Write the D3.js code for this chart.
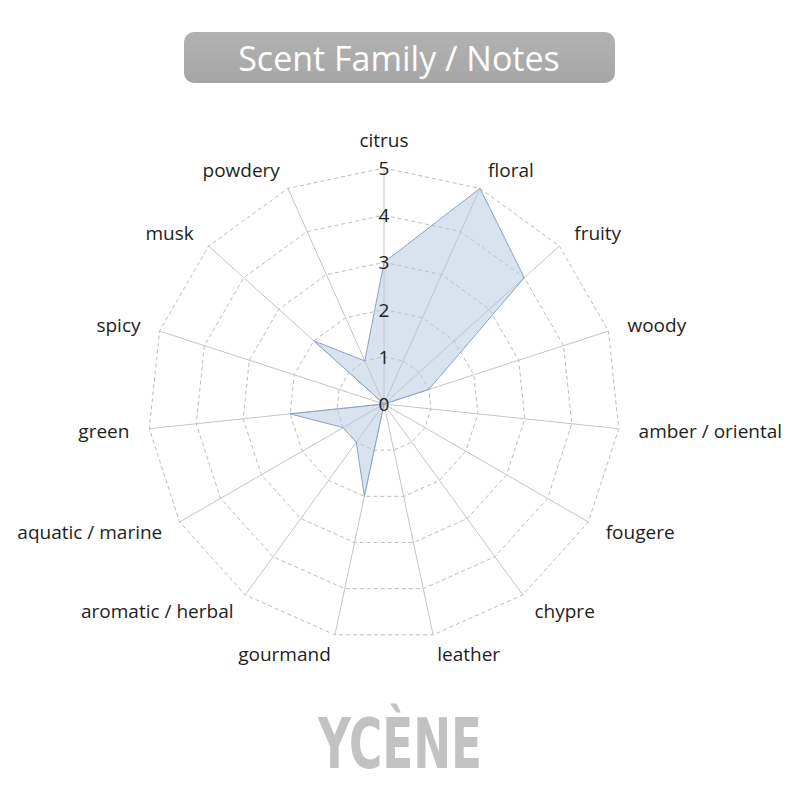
<!DOCTYPE html>
<html>
<head>
<meta charset="utf-8">
<script src="https://cdn.jsdelivr.net/npm/d3@7"></script>
<style>
  html, body { margin: 0; padding: 0; background: #fff; }
  svg { display: block; }
</style>
</head>
<body>
<svg id="chart" width="800" height="800"></svg>
<script>
const families = ['citrus', 'floral', 'fruity', 'woody', 'amber / oriental', 'fougere', 'chypre',
  'leather', 'gourmand', 'aromatic / herbal', 'aquatic / marine', 'green', 'spicy', 'musk', 'powdery']
const scores = [3, 5, 4, 1, 0, 0, 0, 0, 2, 1, 1, 2, 0, 2, 1]
const levels = [0, 1, 2, 3, 4, 5]

const svg = d3.select('#chart')
const width = 800, height = 800
const cx = 384, cy = 404, radius = 236
const labelFont = '"Open Sans", "Noto Sans", sans-serif'

const rScale = d3.scaleLinear().domain([0, 5]).range([0, radius])
const angle = d3.scaleLinear().domain([0, families.length]).range([0, 2 * Math.PI])

// point for axis i at value v
const pt = (i, v) => [cx + rScale(v) * Math.sin(angle(i)), cy - rScale(v) * Math.cos(angle(i))]

// title box
const grad = svg.append('defs').append('linearGradient')
  .attr('id', 'titleGrad').attr('x1', 0).attr('y1', 0).attr('x2', 0).attr('y2', 1)
grad.append('stop').attr('offset', '0%').attr('stop-color', '#b2b2b2')
grad.append('stop').attr('offset', '100%').attr('stop-color', '#a6a6a6')

svg.append('rect')
  .attr('x', 184).attr('y', 32).attr('width', 431).attr('height', 51)
  .attr('rx', 10)
  .attr('fill', 'url(#titleGrad)')
svg.append('text')
  .attr('x', 399).attr('y', 58)
  .attr('text-anchor', 'middle').attr('dominant-baseline', 'central')
  .attr('font-family', labelFont).attr('font-size', 34)
  .attr('fill', '#fff')
  .text('Scent Family / Notes')

// grid rings (15-gons, dashed)
const g = svg.append('g')
levels.slice(1).forEach(l => {
  g.append('polygon')
    .attr('points', families.map((f, i) => pt(i, l).join(',')).join(' '))
    .attr('fill', 'none')
    .attr('stroke', '#bdbdbd')
    .attr('stroke-width', 1)
    .attr('stroke-dasharray', '4,3')
})

// spokes
g.selectAll('line.spoke')
  .data(families)
  .enter().append('line')
  .attr('class', 'spoke')
  .attr('x1', cx).attr('y1', cy)
  .attr('x2', (d, i) => pt(i, 5)[0])
  .attr('y2', (d, i) => pt(i, 5)[1])
  .attr('stroke', '#c4c4c4')
  .attr('stroke-width', 1)

// data polygon
const line = d3.lineRadial()
  .angle((d, i) => angle(i))
  .radius(d => rScale(d))
  .curve(d3.curveLinearClosed)

svg.append('path')
  .attr('transform', `translate(${cx},${cy})`)
  .attr('d', line(scores))
  .attr('fill', '#b4c7e2')
  .attr('fill-opacity', 0.5)
  .attr('stroke', '#88a3c9')
  .attr('stroke-width', 1)

// level numbers on citrus axis
svg.selectAll('text.level')
  .data(levels)
  .enter().append('text')
  .attr('class', 'level')
  .attr('x', cx)
  .attr('y', d => cy - rScale(d))
  .attr('text-anchor', 'middle').attr('dominant-baseline', 'central')
  .attr('font-family', labelFont).attr('font-size', 19)
  .attr('fill', '#222')
  .text(d => d)

// axis labels
svg.selectAll('text.family')
  .data(families)
  .enter().append('text')
  .attr('class', 'family')
  .attr('x', (d, i) => cx + (radius + 20) * Math.sin(angle(i)))
  .attr('y', (d, i) => {
    const y = cy - (radius + 20) * Math.cos(angle(i))
    return i === 0 ? y - 8 : y
  })
  .attr('text-anchor', (d, i) => {
    const s = Math.sin(angle(i))
    return Math.abs(s) < 1e-6 ? 'middle' : (s > 0 ? 'start' : 'end')
  })
  .attr('dominant-baseline', 'central')
  .attr('font-family', labelFont).attr('font-size', 19)
  .attr('fill', '#1e1e1e')
  .text(d => d)

// logo
svg.append('text')
  .attr('x', 400).attr('y', 768)
  .attr('text-anchor', 'middle')
  .attr('font-family', '"Liberation Sans Narrow", "DejaVu Sans Condensed", sans-serif')
  .attr('font-weight', 'bold')
  .attr('font-size', 70)
  .attr('textLength', 164)
  .attr('lengthAdjust', 'spacingAndGlyphs')
  .attr('fill', '#c2c2c2')
  .text('YCÈNE')
</script>
</body>
</html>
